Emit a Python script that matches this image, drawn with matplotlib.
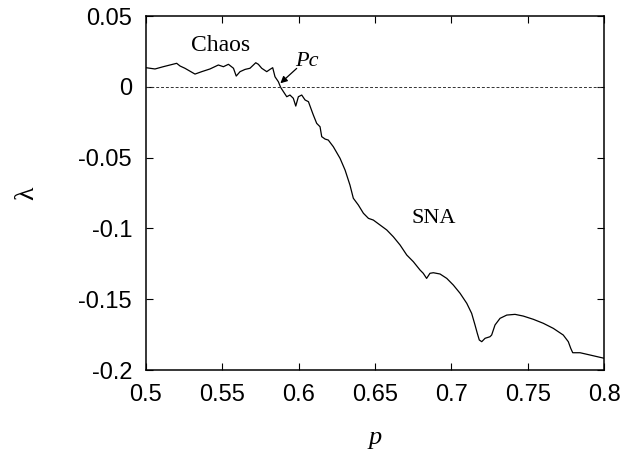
import matplotlib
matplotlib.use('Agg')
import matplotlib.pyplot as plt

# Lyapunov exponent
p_vals = [0.5000, 0.5059, 0.5113, 0.5201, 0.5223, 0.5255, 0.5321, 0.5365, 0.5419,
          0.5474, 0.5507, 0.5540, 0.5573, 0.5591, 0.5616, 0.5649, 0.5681, 0.5719,
          0.5736, 0.5758, 0.5791, 0.5812, 0.5830, 0.5845, 0.5867, 0.5882, 0.5900,
          0.5922, 0.5943, 0.5965, 0.5981, 0.5998, 0.6020, 0.6042, 0.6064, 0.6086,
          0.6096, 0.6118, 0.6140, 0.6151, 0.6173, 0.6194, 0.6227, 0.6271, 0.6304,
          0.6336, 0.6358, 0.6391, 0.6424, 0.6457, 0.6489, 0.6533, 0.6577, 0.6620,
          0.6664, 0.6708, 0.6751, 0.6795, 0.6816, 0.6838, 0.6860, 0.6882, 0.6926,
          0.6970, 0.7013, 0.7057, 0.7101, 0.7133, 0.7155, 0.7170, 0.7183, 0.7199,
          0.7221, 0.7253, 0.7264, 0.7286, 0.7319, 0.7363, 0.7417, 0.7471, 0.7537,
          0.7602, 0.7668, 0.7733, 0.7766, 0.7782, 0.7795, 0.7843, 0.7908, 0.8000]
lam = [0.0135, 0.0126, 0.0142, 0.0166, 0.0147, 0.0131, 0.0090, 0.0107, 0.0126,
       0.0154, 0.0142, 0.0159, 0.0131, 0.0076, 0.0107, 0.0123, 0.0131, 0.0170,
       0.0159, 0.0131, 0.0107, 0.0123, 0.0135, 0.0071, 0.0036, -0.0004, -0.0034,
       -0.0070, -0.0058, -0.0081, -0.0136, -0.0070, -0.0058, -0.0093, -0.0105, -0.0170,
       -0.0199, -0.0258, -0.0282, -0.0352, -0.0369, -0.0376, -0.0423, -0.0505, -0.0588,
       -0.0694, -0.0787, -0.0835, -0.0893, -0.0929, -0.0941, -0.0976, -0.1011, -0.1059,
       -0.1117, -0.1188, -0.1235, -0.1294, -0.1317, -0.1353, -0.1317, -0.1313, -0.1322,
       -0.1353, -0.1400, -0.1458, -0.1529, -0.1600, -0.1682, -0.1741, -0.1788, -0.1800,
       -0.1776, -0.1765, -0.1753, -0.1682, -0.1635, -0.1612, -0.1607, -0.1619, -0.1642,
       -0.1670, -0.1706, -0.1753, -0.1800, -0.1847, -0.1878, -0.1878, -0.1894, -0.1917]

xticks = [0.5, 0.55, 0.6, 0.65, 0.7, 0.75, 0.8]
xlabels = ['0.5', '0.55', '0.6', '0.65', '0.7', '0.75', '0.8']
yticks = [0.05, 0, -0.05, -0.1, -0.15, -0.2]
ylabels = ['0.05', '0', '-0.05', '-0.1', '-0.15', '-0.2']

fig = plt.figure(figsize=(6.26, 4.55), dpi=100)
ax = fig.add_axes([0.2332, 0.1868, 0.7317, 0.778])

ax.plot(p_vals, lam, color='black', linewidth=0.9)
ax.axhline(0, color='#333333', linewidth=0.7, linestyle=(0, (3, 2)))

ax.set_xlim(0.5, 0.8)
ax.set_ylim(-0.2, 0.05)
ax.set_xticks(xticks)
ax.set_xticklabels(xlabels)
ax.set_yticks(yticks)
ax.set_yticklabels(ylabels)
ax.tick_params(direction='in', top=True, right=True, length=5, width=0.8,
               labelsize=17, pad=10)
for lbl in ax.get_xticklabels() + ax.get_yticklabels():
    lbl.set_family('Liberation Sans')
for s in ax.spines.values():
    s.set_linewidth(1.1)

serif = 'Liberation Serif'
ax.set_xlabel('p', family=serif, style='italic', fontsize=19, labelpad=15)
ax.set_ylabel('λ', family=serif, fontsize=20, labelpad=28)

ax.text(0.5489, 0.029, 'Chaos', family=serif, fontsize=17, ha='center', va='center')
ax.text(0.6052, 0.0177, 'Pc', family=serif, style='italic', fontsize=16,
        ha='center', va='center')
ax.text(0.6882, -0.0929, 'SNA', family=serif, fontsize=16, ha='center', va='center')
ax.annotate('', xy=(0.588, 0.0025), xytext=(0.5987, 0.013),
            arrowprops=dict(arrowstyle='-|>', color='black', lw=0.9,
                            mutation_scale=10, shrinkA=0, shrinkB=0))

fig.savefig('out.png', dpi=100)
